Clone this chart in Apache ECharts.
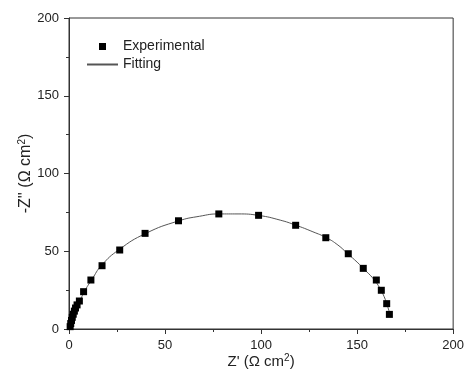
<!DOCTYPE html>
<html>
<head>
    <meta charset="utf-8">
    <title>Nyquist</title>
    <script src="https://cdn.jsdelivr.net/npm/echarts@6/dist/echarts.min.js"></script>
</head>
<body style="margin:0;background:#fff">
    <div id="main" style="width:467px;height:379px;"></div>
    <script type="text/javascript">
        var expX = [0.6, 0.9, 1.3, 1.7, 2.2, 2.8, 3.4, 4.2, 5.4, 7.6, 11.4, 17.2, 26.4, 39.6, 57.0, 78.0, 98.7, 118.0, 133.7, 145.4, 153.2, 160.0, 162.6, 165.4, 166.8];
        var expY = [1.5, 3.5, 5.5, 7.5, 9.5, 11.5, 13.5, 15.5, 18.0, 24.0, 31.5, 40.7, 50.8, 61.5, 69.6, 74.0, 73.1, 66.7, 58.7, 48.4, 39.0, 31.5, 24.9, 16.3, 9.4];
        // fitted curve
        var fitX = [0, 1, 3, 5, 8, 12, 17, 26, 40, 57, 68, 78, 88, 99, 110, 118, 127, 134, 140, 145, 150, 154, 158, 161, 164, 166, 167.5];
        var fitY = [0, 4, 10, 16, 24, 32, 41, 51, 61.5, 69.5, 72.5, 74, 74, 73, 70, 66.8, 62.5, 58.7, 54, 48.5, 43, 38, 33, 28, 21, 14, 8];

        var font = '"Liberation Sans", Arial, sans-serif';
        var myChart = echarts.init(document.getElementById('main'));

        var expData = expX.map(function (x, i) { return [x, expY[i]]; });
        var fitData = fitX.map(function (x, i) { return [x, fitY[i]]; });

        var axisCommon = {
            type: 'value',
            min: 0,
            max: 200,
            interval: 50,
            minorTick: { show: true, splitNumber: 2, length: 3, lineStyle: { color: '#333' } },
            axisLine: { show: true, lineStyle: { color: '#333', width: 1 } },
            axisTick: { show: true, inside: false, length: 5, lineStyle: { color: '#333' } },
            splitLine: { show: false },
            axisLabel: { color: '#222', fontSize: 13, fontFamily: font, margin: 10 },
            nameLocation: 'middle',
            nameMoveOverlap: false
        };

        var rich = {
            sup: { fontSize: 10, fontFamily: font, color: '#222', padding: [0, 0, 8, 0] }
        };

        var option = {
            animation: false,
            grid: { left: 69, top: 18, right: 11, bottom: 50, show: true, borderColor: '#333', borderWidth: 1 },
            xAxis: Object.assign({}, axisCommon, {
                name: "Z' (Ω cm{sup|2})",
                nameGap: 24,
                nameTextStyle: { fontSize: 15, color: '#222', fontFamily: font, rich: rich }
            }),
            yAxis: Object.assign({}, axisCommon, {
                name: "-Z'' (Ω cm{sup|2})",
                nameGap: 34,
                nameTextStyle: { fontSize: 16, color: '#222', fontFamily: font, rich: rich }
            }),
            legend: {
                orient: 'vertical',
                left: 81,
                top: 34,
                itemWidth: 31,
                itemHeight: 7,
                itemGap: 3,
                symbolKeepAspect: true,
                textStyle: { fontSize: 14, color: '#222', fontFamily: font, lineHeight: 15 },
                data: [
                    { name: 'Experimental', icon: 'path://M0,0L1,0L1,1L0,1Z' },
                    { name: 'Fitting', itemStyle: { opacity: 0 } }
                ]
            },
            series: [{
                name: 'Fitting',
                type: 'line',
                data: fitData,
                smooth: true,
                showSymbol: false,
                symbol: 'none',
                lineStyle: { color: '#555', width: 1 },
                itemStyle: { color: '#555' },
                z: 1
            }, {
                name: 'Experimental',
                type: 'scatter',
                data: expData,
                symbol: 'rect',
                symbolSize: 7,
                itemStyle: { color: '#000', opacity: 1 },
                z: 2
            }]
        };

        myChart.setOption(option);
    </script>
</body>
</html>
